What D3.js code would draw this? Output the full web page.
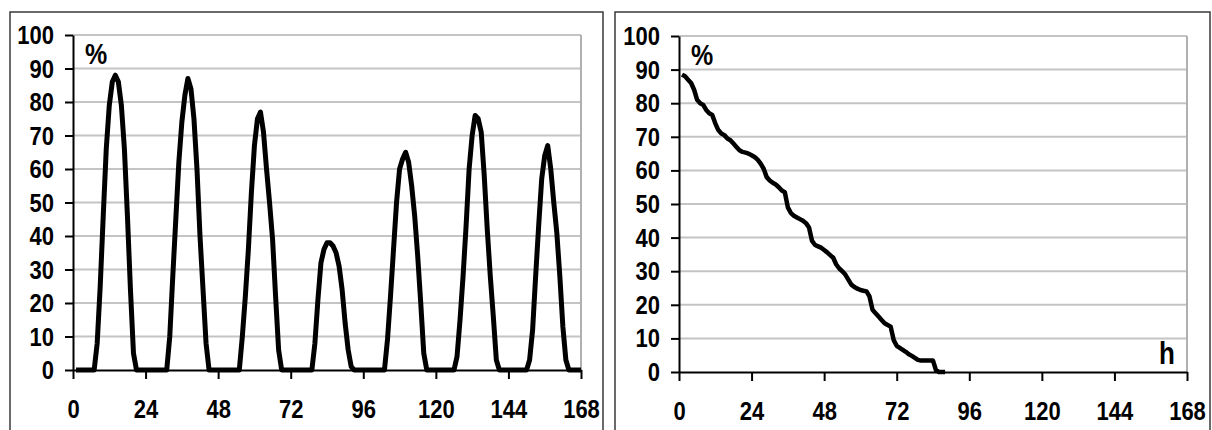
<!DOCTYPE html>
<html>
<head>
<meta charset="utf-8">
<script src="https://cdn.jsdelivr.net/npm/d3@7"></script>
<style>
  html, body { margin: 0; padding: 0; background: #fff; }
  svg { display: block; }
  text { font-family: "Liberation Sans", Arial, sans-serif; font-weight: bold; fill: #000; }
</style>
</head>
<body>
<svg id="chart" width="1212" height="430"></svg>
<script>
// ---------- DATA ----------
// x-axis tick labels (hours) and y-axis tick labels (%)
const xTicks = [0, 24, 48, 72, 96, 120, 144, 168];
const yTicks = [0, 10, 20, 30, 40, 50, 60, 70, 80, 90, 100];

// Left panel: hourly values (%) for hours 1..168
const hourlyPct = [
  0, 0, 0, 0, 0, 0, 0, 8, 25, 46, 66, 79, 86, 88, 86, 79, 66, 46, 24, 5, 0, 0, 0,
  0, 0, 0, 0, 0, 0, 0, 0, 10, 28, 45, 62, 74, 82, 87, 84, 75, 60, 40, 24, 8, 0, 0, 0,
  0, 0, 0, 0, 0, 0, 0, 0, 10, 22, 36, 53, 67, 75, 77, 71, 60, 50, 39, 22, 6, 0, 0, 0,
  0, 0, 0, 0, 0, 0, 0, 0, 8, 21, 32, 36, 38, 38, 37, 35, 31, 24, 14, 6, 1, 0, 0, 0,
  0, 0, 0, 0, 0, 0, 0, 0, 9, 22, 36, 50, 60, 63, 65, 62, 55, 46, 34, 20, 5, 0, 0, 0,
  0, 0, 0, 0, 0, 0, 0, 4, 15, 28, 43, 60, 70, 76, 75, 71, 58, 42, 28, 16, 3, 0, 0, 0,
  0, 0, 0, 0, 0, 0, 0, 3, 12, 28, 43, 57, 64, 67, 60, 50, 41, 28, 13, 3, 0, 0, 0, 0, 0
];

// Right panel: duration curve (%) for hours 1..88
const durationPct = [
  88.5, 88, 87, 86, 84, 81, 80, 79.5, 78, 77, 76.5, 74, 72, 71, 70.5, 69.5, 69, 68, 67, 66,
  65.5, 65.3, 65, 64.5, 64, 63.2, 62, 60.5, 58, 57, 56.3, 55.8, 55, 54, 53.5, 49, 47.3, 46.5, 46, 45.5,
  45, 44.3, 43, 39, 37.8, 37.4, 37, 36.3, 35.6, 34.8, 34, 32, 30.8, 30, 29, 27.5, 26, 25.3, 24.8, 24.4,
  24.2, 24, 22.5, 18.5, 17.5, 16.5, 15.5, 14.5, 14, 13.5, 9.5, 7.8, 7.2, 6.6, 6, 5.3, 4.8, 4.2, 3.6, 3.4,
  3.4, 3.4, 3.4, 3.4, 0.5, 0, 0, 0
];

const yLabel = "%";
const xLabel = "h";

// ---------- DRAW ----------
const svg = d3.select("#chart");
const FONT = "Liberation Sans, Arial, sans-serif";
const SY = 1.18; // vertical stretch of the bold labels

// panel frames
svg.append("rect").attr("x", 10).attr("y", 12).attr("width", 593).attr("height", 440)
  .attr("fill", "none").attr("stroke", "#3a3a3a").attr("stroke-width", 1.5);
svg.append("rect").attr("x", 615).attr("y", 12).attr("width", 595).attr("height", 440)
  .attr("fill", "none").attr("stroke", "#3a3a3a").attr("stroke-width", 1.5);

function label(g, x, y, size, txt, anchor) {
  return g.append("text")
    .attr("transform", `translate(${x},${y}) scale(1,${SY})`)
    .attr("font-size", size).attr("font-family", FONT).attr("font-weight", "bold")
    .attr("text-anchor", anchor || "start").attr("fill", "#000").text(txt);
}

function panel(cfg) {
  const g = svg.append("g");
  const x = d3.scaleLinear().domain([0, 168]).range([cfg.x0, cfg.x1]);
  const y = d3.scaleLinear().domain([0, 100]).range([cfg.yb, cfg.yt]);

  // gridlines
  g.append("g").selectAll("line").data(yTicks.filter(d => d > 0)).join("line")
    .attr("x1", cfg.x0).attr("x2", cfg.x1)
    .attr("y1", d => y(d)).attr("y2", d => y(d))
    .attr("stroke", "#c4c4c4").attr("stroke-width", 2);
  // right border of plot area
  g.append("line").attr("x1", cfg.x1).attr("x2", cfg.x1).attr("y1", cfg.yt).attr("y2", cfg.yb)
    .attr("stroke", "#b0b0b0").attr("stroke-width", 2);

  // y axis
  const ya = g.append("g").attr("transform", `translate(${cfg.x0},0)`)
    .call(d3.axisLeft(y).tickValues(yTicks).tickSize(8).tickPadding(11).tickSizeOuter(0));
  ya.select(".domain").attr("stroke", "#000").attr("stroke-width", 2);
  ya.selectAll(".tick line").attr("stroke", "#000").attr("stroke-width", 2);
  ya.selectAll(".tick text")
    .attr("font-size", 22).attr("font-family", FONT).attr("font-weight", "bold").attr("fill", "#000")
    .attr("x", null).attr("dy", null).attr("y", 8.5 / SY)
    .attr("transform", `translate(-19,0) scale(1,${SY})`);

  // x axis
  const xa = g.append("g").attr("transform", `translate(0,${cfg.yb})`)
    .call(d3.axisBottom(x).tickValues(xTicks).tickSize(9).tickPadding(20).tickSizeOuter(0));
  xa.select(".domain").attr("stroke", "#000").attr("stroke-width", 2);
  xa.selectAll(".tick line").attr("stroke", "#000").attr("stroke-width", 2);
  xa.selectAll(".tick text")
    .attr("font-size", 22).attr("font-family", FONT).attr("font-weight", "bold").attr("fill", "#000")
    .attr("dy", null).attr("y", 48 / SY)
    .attr("transform", `scale(1,${SY})`);

  // series line
  const line = d3.line().x((d, i) => x(i + 1)).y(d => y(d));
  g.append("path").datum(cfg.data).attr("d", line)
    .attr("fill", "none").attr("stroke", "#000").attr("stroke-width", cfg.sw)
    .attr("stroke-linejoin", "round").attr("stroke-linecap", "butt");

  // unit label
  label(g, cfg.x0 + 12, cfg.yt + 29, 25, yLabel);
  return { x, y, g };
}

panel({ x0: 73, x1: 581, yt: 35, yb: 370, data: hourlyPct, sw: 5 });
const right = panel({ x0: 679, x1: 1187, yt: 36, yb: 372, data: durationPct, sw: 4.5 });
label(right.g, 1159, 364, 26, xLabel);
</script>
</body>
</html>
